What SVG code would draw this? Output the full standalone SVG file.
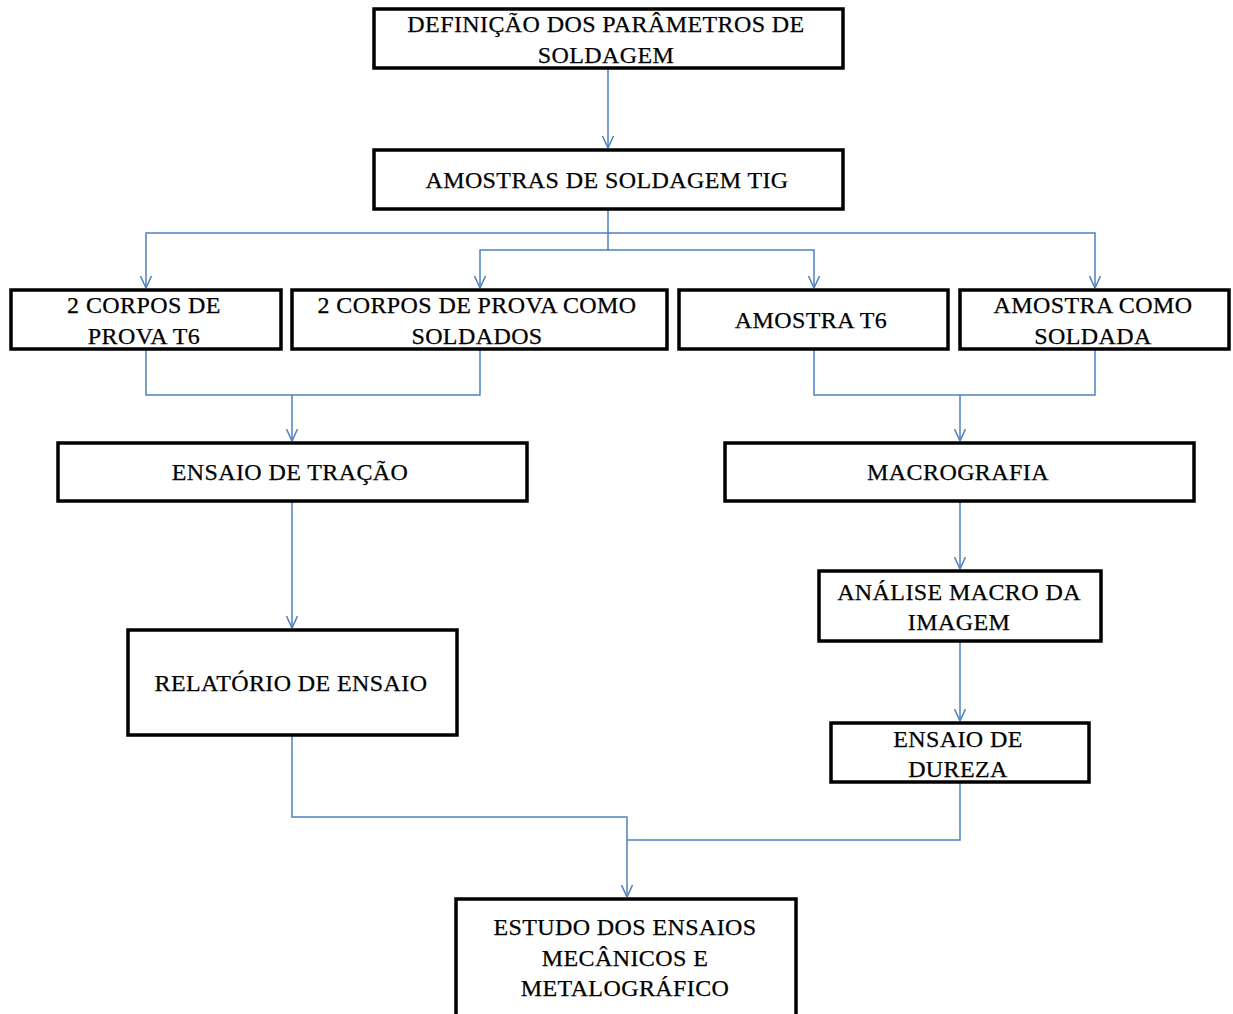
<svg xmlns="http://www.w3.org/2000/svg" width="1233" height="1014" viewBox="0 0 1233 1014">
<style>
.box{fill:#fff;stroke:#000;stroke-width:3.5}
.t{font-family:"Liberation Serif","Times New Roman",serif;font-size:24px;letter-spacing:0.4px;fill:#000;stroke:#000;stroke-width:0.25;text-anchor:middle}
.c{fill:none;stroke:#4F81BD;stroke-width:1.5}
</style>
<defs>
<marker id="ah" viewBox="0 0 12 12" refX="12" refY="6" markerWidth="12" markerHeight="12" markerUnits="userSpaceOnUse" orient="auto">
<path d="M0,0.5 L12,6 L0,11.5" fill="none" stroke="#4F81BD" stroke-width="1.5"/>
</marker>
</defs>
<rect width="1233" height="1014" fill="#fff"/>
<g id="connectors">
<path class="c" d="M608,68 V148" marker-end="url(#ah)"/>
<path class="c" d="M608,209 V233 H146 V288" marker-end="url(#ah)"/>
<path class="c" d="M608,233 H1095 V288" marker-end="url(#ah)"/>
<path class="c" d="M608,233 V250 H480 V288" marker-end="url(#ah)"/>
<path class="c" d="M608,250 H814 V288" marker-end="url(#ah)"/>
<path class="c" d="M146,349 V395 H480 V349"/>
<path class="c" d="M292,395 V441" marker-end="url(#ah)"/>
<path class="c" d="M814,349 V395 H1095 V349"/>
<path class="c" d="M960,395 V441" marker-end="url(#ah)"/>
<path class="c" d="M292,501 V628" marker-end="url(#ah)"/>
<path class="c" d="M960,501 V569" marker-end="url(#ah)"/>
<path class="c" d="M960,641 V721" marker-end="url(#ah)"/>
<path class="c" d="M292,735 V817 H627 V897" marker-end="url(#ah)"/>
<path class="c" d="M960,782 V840 H627"/>
</g>
<g id="n1"><rect class="box" x="374" y="9" width="469" height="59"/>
<text class="t" x="606" y="32">DEFINIÇÃO DOS PARÂMETROS DE</text>
<text class="t" x="606" y="63">SOLDAGEM</text></g>
<g id="n2"><rect class="box" x="374" y="150" width="469" height="59"/>
<text class="t" x="607" y="188">AMOSTRAS DE SOLDAGEM TIG</text></g>
<g id="n3"><rect class="box" x="11" y="290" width="270" height="59"/>
<text class="t" x="144" y="313">2 CORPOS DE</text>
<text class="t" x="144" y="344">PROVA T6</text></g>
<g id="n4"><rect class="box" x="292" y="290" width="375" height="59"/>
<text class="t" x="477" y="313">2 CORPOS DE PROVA COMO</text>
<text class="t" x="477" y="344">SOLDADOS</text></g>
<g id="n5"><rect class="box" x="679" y="290" width="269" height="59"/>
<text class="t" x="811" y="328">AMOSTRA T6</text></g>
<g id="n6"><rect class="box" x="960" y="290" width="269" height="59"/>
<text class="t" x="1093" y="313">AMOSTRA COMO</text>
<text class="t" x="1093" y="344">SOLDADA</text></g>
<g id="n7"><rect class="box" x="58" y="443" width="469" height="58"/>
<text class="t" x="290" y="480">ENSAIO DE TRAÇÃO</text></g>
<g id="n8"><rect class="box" x="725" y="443" width="469" height="58"/>
<text class="t" x="958" y="480">MACROGRAFIA</text></g>
<g id="n9"><rect class="box" x="128" y="630" width="329" height="105"/>
<text class="t" x="291" y="691">RELATÓRIO DE ENSAIO</text></g>
<g id="n10"><rect class="box" x="819" y="571" width="282" height="70"/>
<text class="t" x="959" y="600">ANÁLISE MACRO DA</text>
<text class="t" x="959" y="630">IMAGEM</text></g>
<g id="n11"><rect class="box" x="831" y="723" width="258" height="59"/>
<text class="t" x="958" y="747">ENSAIO DE</text>
<text class="t" x="958" y="777">DUREZA</text></g>
<g id="n12"><rect class="box" x="456" y="899" width="340" height="125"/>
<text class="t" x="625" y="935">ESTUDO DOS ENSAIOS</text>
<text class="t" x="625" y="966">MECÂNICOS E</text>
<text class="t" x="625" y="996">METALOGRÁFICO</text></g>
</svg>
